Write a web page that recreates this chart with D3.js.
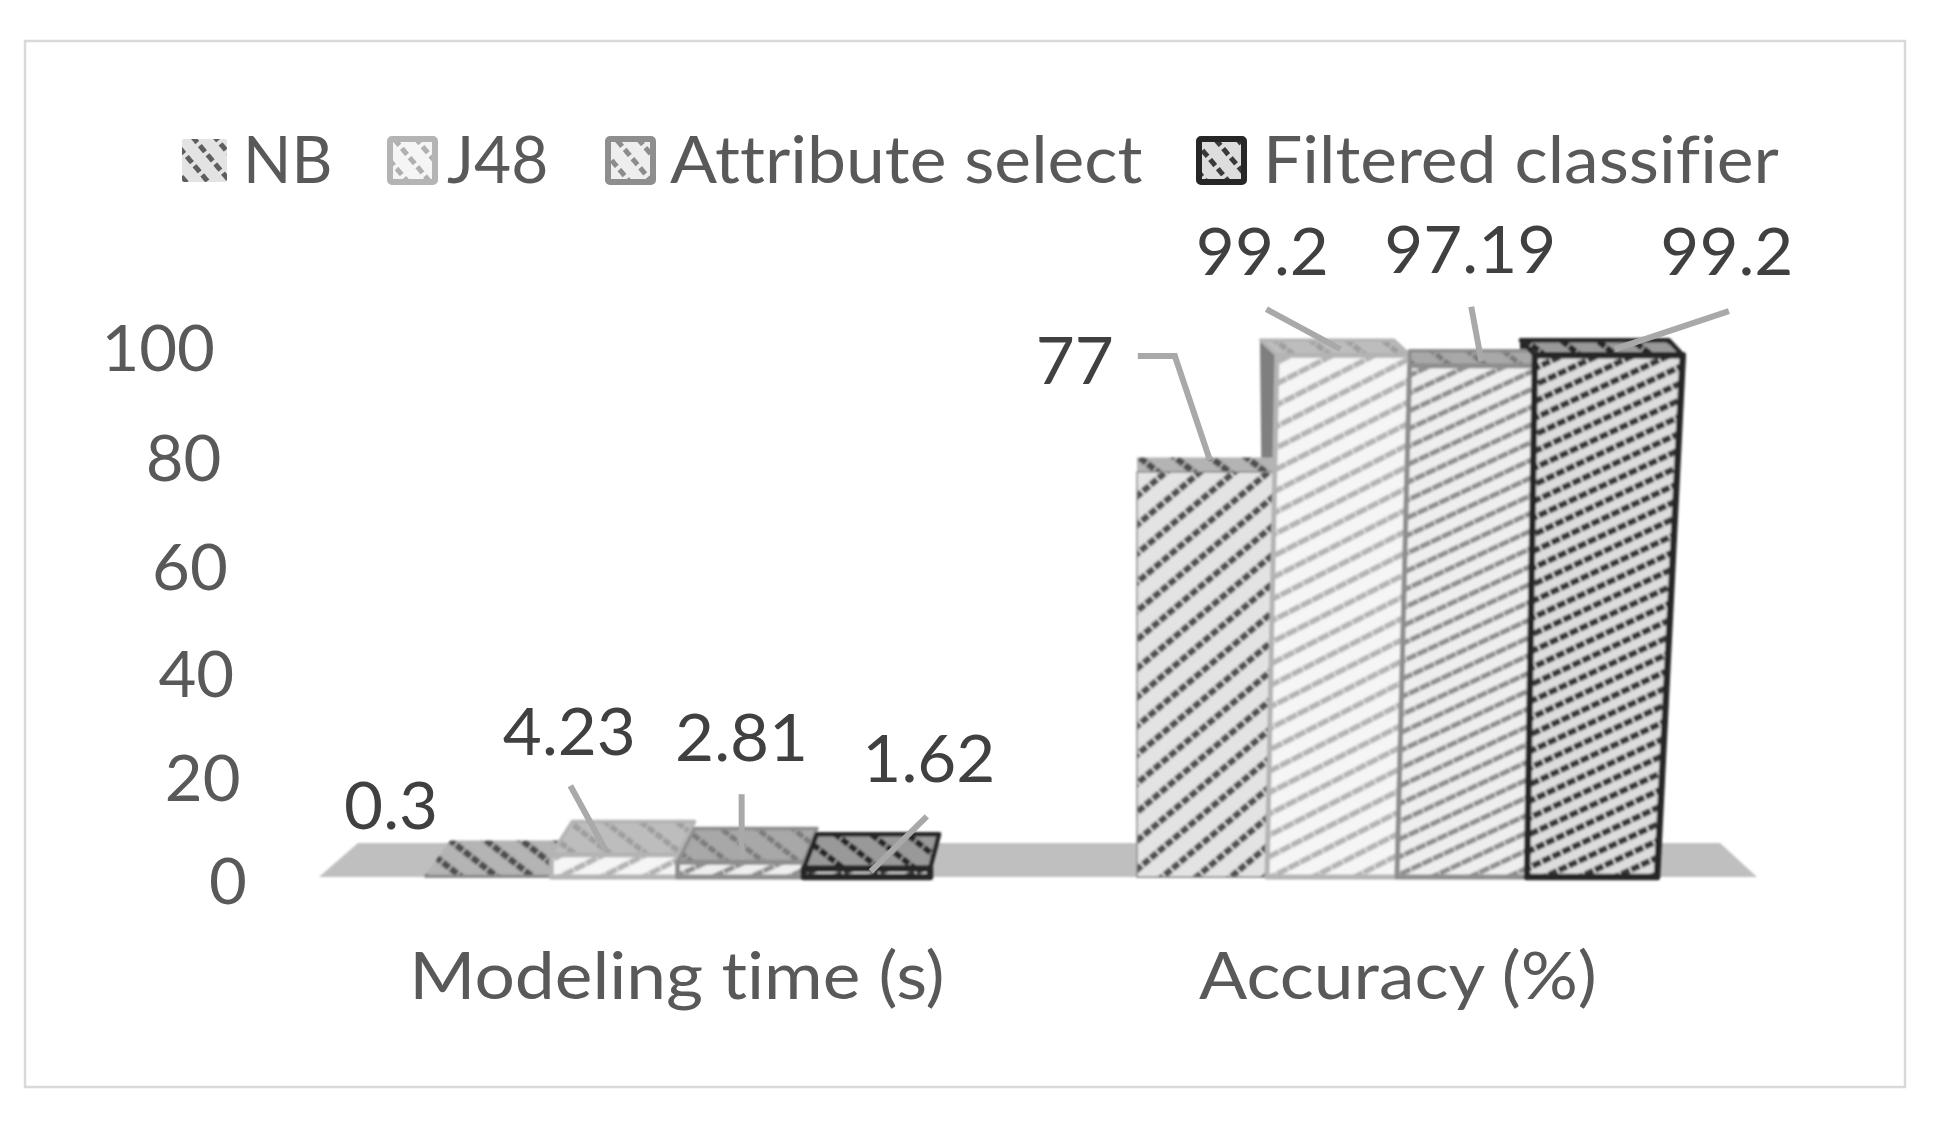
<!DOCTYPE html>
<html><head><meta charset="utf-8">
<script src="https://cdn.jsdelivr.net/npm/d3@7/dist/d3.min.js"></script>
<style>html,body{margin:0;padding:0;background:#fff}svg{display:block}text{font-family:Lato,"Noto Sans",sans-serif;font-variant-ligatures:none}</style>
</head><body><svg id="c" width="1938" height="1122"></svg>
<script>
const categories = ["Modeling time (s)", "Accuracy (%)"];
const seriesNames = ["NB", "J48", "Attribute select", "Filtered classifier"];
const modelingTime = [0.3, 4.23, 2.81, 1.62];
const accuracy = [77, 99.2, 97.19, 99.2];
const tickValues = [0, 20, 40, 60, 80, 100];

const svg = d3.select("#c");
const groupValues = [modelingTime, accuracy];

// layout
const y = d3.scaleLinear().domain([0, 100]).range([877, 351]);
const depth = d3.scaleLinear().domain([0, 50, 100]).range([35, 14, 15]);
const bandRanges = [[425, 930], [1137, 1657]];
const bands = bandRanges.map(r => d3.scaleBand().domain(seriesNames).range(r));
// how far a bar corner leans outwards between floor and the 100 level
const lean = d3.scaleLinear().domain([1137, 1267, 1399, 1527, 1657]).range([0, 10, 13, 8, 26]).clamp(true);
const px = (x, v) => x + (x > 1137 ? lean(x) * v / 100 : 0);
const backShiftLow = d3.scaleLinear().domain([430, 933]).range([25, 9]);
const backShiftHigh = [0, -16, 0, -14];
const shiftAt = (g, i, x) => g === 0 ? backShiftLow(x) : backShiftHigh[i];

const styles = [
  {face:"#e3e3e3", stripe:"#505050", angle:-40, gap:22, sw:6.5, dash:"8 2", edge:"#8a8a8a", ew:1.5, top:"#b4b4b4", topStripe:"#4d4d4d", side:"#9a9a9a", swatch:"#5e5e5e"},
  {face:"#f5f5f5", stripe:"#b4b4b4", angle:-27, gap:19, sw:5.5, dash:"12 1", edge:"#b4b4b4", ew:5, top:"#bdbdbd", topStripe:"#9e9e9e", side:"#7f7f7f", swatch:"#b0b0b0"},
  {face:"#eeeeee", stripe:"#8e8e8e", angle:-25, gap:16, sw:5, dash:"11 1", edge:"#8e8e8e", ew:5, top:"#a8a8a8", topStripe:"#7a7a7a", side:"#8e8e8e", swatch:"#8c8c8c"},
  {face:"#dddddd", stripe:"#363636", angle:-25, gap:15, sw:6, dash:"9 2", edge:"#262626", ew:6.5, top:"#999999", topStripe:"#262626", side:"#262626", swatch:"#3a3a3a"}
];

const defs = svg.append("defs");
defs.append("filter").attr("id","soft").append("feGaussianBlur").attr("stdDeviation",1);
function stripePattern(id, bg, fg, angle, gap, sw, dash, cycle){
  const p = defs.append("pattern").attr("id",id).attr("patternUnits","userSpaceOnUse")
    .attr("width",cycle).attr("height",gap).attr("patternTransform",`rotate(${angle})`);
  p.append("rect").attr("width",cycle).attr("height",gap).attr("fill",bg);
  p.append("line").attr("x1",0).attr("x2",cycle).attr("y1",gap/2).attr("y2",gap/2)
    .attr("stroke",fg).attr("stroke-width",sw).attr("stroke-dasharray",dash);
}
styles.forEach((s,i)=>{
  const cycle = d3.sum(s.dash.split(" ").map(Number)) * 4;
  stripePattern("front"+i, s.face, s.stripe, s.angle, s.gap, s.sw, s.dash, cycle);
  stripePattern("top"+i, s.top, s.topStripe, 38, 22, s.sw, "8 2", 40);
  stripePattern("sw"+i, s.face, s.swatch, 50, 17, 5, "8 4", 24);
});

// horizontal stretch of a text selection, the reference's type is wider than Lato
function widen(sel, k){
  sel.each(function(){
    d3.select(this).attr("textLength", this.getComputedTextLength()*k).attr("lengthAdjust","spacingAndGlyphs");
  });
  return sel;
}

// frame
svg.append("rect").attr("x",25).attr("y",41).attr("width",1880).attr("height",1046)
  .attr("fill","#fff").attr("stroke","#d9d9d9").attr("stroke-width",2.5);

// floor
svg.append("polygon").attr("points",[[319,877],[358,843],[1720,843],[1757,877]].join(" "))
  .attr("fill","#bfbfbf").attr("filter","url(#soft)");

// bars
const line = d3.line();
const bars = svg.append("g").attr("filter","url(#soft)");
const sides = bars.append("g"), bodies = bars.append("g");
groupValues.forEach((vals,g)=>{
  vals.forEach((v,i)=>{
    const s = styles[i], b = bands[g], name = seriesNames[i];
    const x0 = b(name), x1 = x0 + b.bandwidth();
    const tl = [px(x0,v), y(v)], tr = [px(x1,v), y(v)];
    const d = depth(v);
    const bl = [tl[0]+shiftAt(g,i,tl[0]), y(v)-d], br = [tr[0]+shiftAt(g,i,tr[0]), y(v)-d];
    if (bl[0] < tl[0]-1) {
      sides.append("path").attr("d", line([bl, tl, [x0,y(0)]])+"Z")
       .attr("fill", s.side).attr("stroke", s.side).attr("stroke-width",2);
    }
    const e = bodies.append("g");
    e.append("path").attr("d", line([tl,tr,br,bl])+"Z").attr("fill",`url(#top${i})`)
      .attr("stroke", i===0 ? "none" : s.edge).attr("stroke-width", s.ew*0.7).attr("stroke-linejoin","round");
    e.append("path").attr("d", line([tl,tr,[x1,y(0)],[x0,y(0)]])+"Z").attr("fill",`url(#front${i})`)
      .attr("stroke", s.edge).attr("stroke-width", s.ew).attr("stroke-linejoin","round");
  });
});

// y tick labels (staggered by perspective)
const tickX = d3.scaleLinear().domain([0,100]).range([247,215]);
const tickY = d3.scaleLinear().domain(tickValues).range([882,779,675,568,459,349]);
svg.append("g").selectAll("text").data(tickValues).join("text")
  .attr("x",d=>tickX(d)).attr("y",d=>tickY(d)).attr("dy","0.35em").attr("text-anchor","end")
  .attr("font-size",64).attr("fill","#595959").text(d=>d).call(widen,1.02);

// category labels
const catX = [677, 1398];
svg.append("g").selectAll("text").data(categories).join("text")
  .attr("x",(d,i)=>catX[i]).attr("y",976).attr("dy","0.35em").attr("text-anchor","middle")
  .attr("font-size",66).attr("fill","#595959").text(d=>d).call(widen,1.08);

// legend
const legendSwatchX = [182, 390, 608, 1199];
const legendTextX = [243, 447, 670, 1263];
const legendStretch = [0.96, 0.97, 1.055, 1.055];
const lg = svg.append("g");
seriesNames.forEach((n,i)=>{
  lg.append("rect").attr("x",legendSwatchX[i]).attr("y",139).attr("width",45).attr("height",43)
    .attr("fill",`url(#sw${i})`).attr("stroke",i?styles[i].edge:"none").attr("stroke-width",i?6:0).attr("rx",2);
  lg.append("text").attr("x",legendTextX[i]).attr("y",183).attr("font-size",66).attr("fill","#595959").text(n).call(widen,legendStretch[i]);
});

// data labels and leader lines, offsets from each bar's front-top centre
const labelOffsets = [
  [[-97,-70],[-45,-123],[1,-124],[62,-110]],
  [[-131,-111],[-81,-103],[-2,-116],[118,-103]]
];
const leaderOffsets = [
  [null,[[-44,-69],[-9,-5]],[[1,-68],[1,-3]],[[60,-52],[4,3]]],
  [[[-68,-116],[-31,-116],[4,-12]],[[-77,-46],[-3,-6]],[[-1,-59],[9,-5]],[[120,-44],[6,-6]]]
];
const ann = svg.append("g");
groupValues.forEach((vals,g)=>{
  vals.forEach((v,i)=>{
    const b = bands[g], cx = px(b(seriesNames[i])+b.bandwidth()/2, v), cy = y(v);
    if (leaderOffsets[g][i]) {
      ann.append("path").attr("d", line(leaderOffsets[g][i].map(o=>[cx+o[0],cy+o[1]])))
        .attr("fill","none").attr("stroke","#a9a9a9").attr("stroke-width",6);
    }
    ann.append("text").attr("x",cx+labelOffsets[g][i][0]).attr("y",cy+labelOffsets[g][i][1])
      .attr("dy","0.35em").attr("text-anchor","middle").attr("font-size",66).attr("fill","#404040").text(v).call(widen,1.02);
  });
});
</script></body></html>
